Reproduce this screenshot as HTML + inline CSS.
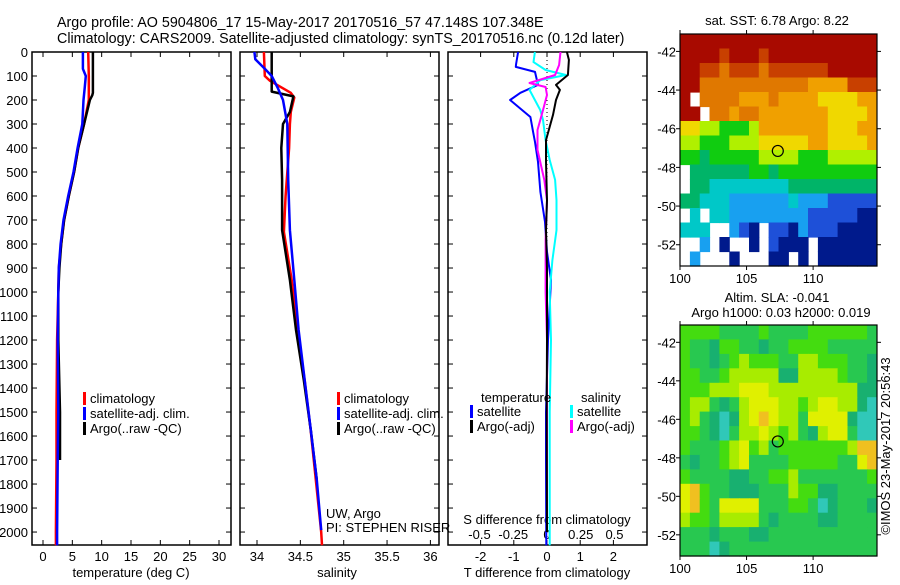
<!DOCTYPE html>
<html><head><meta charset="utf-8"><style>
body{margin:0;background:#fff;width:900px;height:580px;overflow:hidden}
svg{font-family:"Liberation Sans",sans-serif;font-size:13px}
</style></head><body>
<svg id="c" width="900" height="580" xmlns="http://www.w3.org/2000/svg">
<text x="57" y="27" style="font-size:14.3px">Argo profile: AO 5904806_17 15-May-2017 20170516_57 47.148S 107.348E</text>
<text x="57" y="43" style="font-size:14.3px">Climatology: CARS2009. Satellite-adjusted climatology: synTS_20170516.nc (0.12d later)</text>
</svg>
<script>
// ---- data ----
const depthTicks=[0,100,200,300,400,500,600,700,800,900,1000,1100,1200,1300,1400,1500,1600,1700,1800,1900,2000];
const tTicks=[0,5,10,15,20,25,30];
const sTicks=[34,34.5,35,35.5,36];
const dTTicks=[-2,-1,0,1,2];
const dSTicks=[-0.5,-0.25,0,0.25,0.5];
const dSTickLabels=["-0.5","-0.25","0","0.25","0.5"];
// temperature profiles [depth, T]
const tClimDepth=[0,100,200,300,400,500,600,700,800,900,1000,1200,1500,1700,2000,2055];
const tClimVal=[7.7,7.8,7.8,7.0,6.0,5.3,4.4,3.6,3.1,2.7,2.6,2.4,2.3,2.3,2.2,2.2];
const tSatDepth=[0,70,100,150,200,300,400,500,600,700,800,900,1000,1200,1500,1700,2000,2055];
const tSatVal=[6.8,6.8,7.3,7.1,6.9,6.7,5.9,5.2,4.3,3.5,3.0,2.7,2.6,2.5,2.6,2.5,2.4,2.4];
const tArgoDepth=[0,170,180,200,300,400,500,600,700,800,900,1000,1200,1500,1700];
const tArgoVal=[8.5,8.5,8.4,8.0,7.0,6.0,5.3,4.4,3.6,3.1,2.8,2.6,2.6,2.9,2.9];
// salinity profiles
const sClimDepth=[0,100,120,170,190,250,300,400,600,750,950,1160,1370,1580,1790,2000,2055];
const sClimVal=[34.08,34.09,34.15,34.39,34.43,34.39,34.38,34.37,34.33,34.31,34.40,34.47,34.55,34.62,34.68,34.74,34.75];
const sSatDepth=[0,30,70,100,150,200,300,533,742,950,1158,1367,1575,1783,1992];
const sSatVal=[33.97,33.98,34.09,34.17,34.24,34.30,34.35,34.36,34.38,34.43,34.48,34.55,34.62,34.69,34.74];
const sArgoDepth=[0,165,185,250,300,400,533,742,950,1158,1367,1575,1783];
const sArgoVal=[34.17,34.17,34.42,34.38,34.30,34.28,34.29,34.29,34.38,34.45,34.54,34.62,34.69];
// differences
const dTSatDepth=[0,50,62,83,137,170,200,271,333,375,458,583,708,833,950,1200,1500,1700,2055];
const dTSatVal=[-0.87,-0.93,-0.94,-0.36,-0.27,-0.8,-1.11,-0.5,-0.42,-0.36,-0.27,-0.2,-0.06,0,0.12,0.03,-0.03,-0.03,-0.02];
const dTArgoDepth=[0,33,96,137,158,200,262,367,458,617,742,900,1200,1500,2000];
const dTArgoVal=[0.6,0.66,0.63,0.27,0.39,0.27,0.18,-0.03,-0.03,0,-0.03,0,0,-0.01,0];
const dSSatDepth=[0,42,75,96,117,158,200,242,283,367,450,533,617,742,867,1000,1200,1500,1700,2055];
const dSSatVal=[-0.09,-0.1,-0.01,0.14,-0.05,-0.13,-0.09,-0.05,-0.03,-0.01,0.02,0.06,0.07,0.07,0.04,0.02,0.03,0.02,0.02,0.02];
const dSArgoDepth=[0,54,96,129,146,179,242,325,408,533,617,783,1000,1200,1500,1700,2000];
const dSArgoVal=[0.10,0.09,0.06,-0.13,-0.01,0,-0.03,-0.07,-0.07,-0.02,0,-0.01,-0.01,0,0,0,0];
// maps: lat/lon ticks
const latTicks=[-42,-44,-46,-48,-50,-52];
const lonTicks=[100,105,110];
const argoLon=107.348, argoLat=-47.148;
const sstRows=[
"BBBBBBBBBBBBBBBBBBBB",
"BBBBABBBABBBBBBBBBBB",
"BBAA9AAA9AAAAAABBBBB",
"BB999999999998888AAA",
"B_999988898888777788",
"BB_99899888888877778",
"77665556888888877788",
"66555666777778877778",
"55455555666655566666",
"_4444445545555555555",
"_4433333333444444444",
"44333222222322211111",
"_3_33222222221111100",
"333__210_11021110000",
"__2_0__0_1000_000000",
"_2___0___00_0_000000"];
const sstColors={"0":"#001a8c","1":"#1e50d8","2":"#18a0f0","3":"#00c8c8","4":"#00b468","5":"#10cc10","6":"#b0f000","7":"#f0d800","8":"#f0a000","9":"#e07800","A":"#c84000","B":"#a80a00"};
const slaRows=[
"33332222322223333332",
"32213322122333322222",
"32212343332244333221",
"33223444441144443221",
"33344455544444444411",
"34421245554434554410",
"34210145654425555100",
"33210244543421455200",
"32223453423333333466",
"21223452222333332256",
"32222112233422222223",
"56322111222433112222",
"56325555222332012221",
"43324444212222112222",
"22212221122222222222",
"22201222222222222222"];
const slaColors={"0":"#30c8b8","1":"#18b070","2":"#28c850","3":"#44dc10","4":"#a8ec00","5":"#e0f000","6":"#f0c020"};

// ---- drawing ----
const svg=document.getElementById('c');
const NS="http://www.w3.org/2000/svg";
function el(tag,attrs,parent){const e=document.createElementNS(NS,tag);for(const k in attrs)e.setAttribute(k,attrs[k]);(parent||svg).appendChild(e);return e;}
function txt(x,y,s,anchor,parent){const t=el('text',{x:x,y:y,'text-anchor':anchor||'start'},parent);t.textContent=s;return t;}
const Y0=52,Y1=545,DMAX=2054;
const yD=d=>Y0+d*(Y1-Y0)/DMAX;
function panel(x0,x1,name){
  const g=el('g',{});
  
  
  el('rect',{x:x0,y:Y0,width:x1-x0,height:Y1-Y0,fill:'none',stroke:'#000','stroke-width':1.5},g);
  return g;
}
function line(g,xs,ds,xf,color,name,w){
  const p=xs.map((v,i)=>xf(v).toFixed(1)+','+yD(ds[i]).toFixed(1)).join(' ');
  const l=el('polyline',{points:p,fill:'none',stroke:color,'stroke-width':w||2.5,'stroke-linejoin':'round'},g);
  
  
}
const yax=el('g',{});


depthTicks.forEach(d=>{txt(28,yD(d)+5,String(d),'end',yax);});
function yticks(g,x0,x1){depthTicks.forEach(d=>{const y=yD(d);el('line',{x1:x0,y1:y,x2:x0+5,y2:y,stroke:'#000'},g);el('line',{x1:x1-5,y1:y,x2:x1,y2:y,stroke:'#000'},g);});}
function legend(g,x,y,items){items.forEach((it,i)=>{el('rect',{x:x,y:y+i*15-11,width:3,height:13,fill:it[0]},g);const t=txt(x+7,y+i*15,it[1],'start',g);});}

// panel 1 temperature
const p1=panel(32,231,'temperature-panel');
const xT=v=>43+v*(219-43)/30;
yticks(p1,32,231);
tTicks.forEach(v=>{const x=xT(v);el('line',{x1:x,y1:Y1,x2:x,y2:Y1-5,stroke:'#000'},p1);el('line',{x1:x,y1:Y0,x2:x,y2:Y0+5,stroke:'#000'},p1);txt(x,561,String(v),'middle',p1);});
txt(131,577,'temperature (deg C)','middle',p1);
line(p1,tClimVal,tClimDepth,xT,'#ff0000','temp-climatology-line');
line(p1,tArgoVal,tArgoDepth,xT,'#000000','temp-argo-line');
line(p1,tSatVal,tSatDepth,xT,'#0000ff','temp-satellite-line');
legend(p1,83,403,[['#ff0000','climatology'],['#0000ff','satellite-adj. clim.'],['#000','Argo(..raw -QC)']]);

// panel 2 salinity
const p2=panel(240,439,'salinity-panel');
const xS=v=>257+(v-34)*86.7;
yticks(p2,240,439);
sTicks.forEach(v=>{const x=xS(v);el('line',{x1:x,y1:Y1,x2:x,y2:Y1-5,stroke:'#000'},p2);el('line',{x1:x,y1:Y0,x2:x,y2:Y0+5,stroke:'#000'},p2);txt(x,561,String(v),'middle',p2);});
txt(337,577,'salinity','middle',p2);
line(p2,sClimVal,sClimDepth,xS,'#ff0000','sal-climatology-line');
line(p2,sArgoVal,sArgoDepth,xS,'#000000','sal-argo-line');
line(p2,sSatVal,sSatDepth,xS,'#0000ff','sal-satellite-line');
legend(p2,337,403,[['#ff0000','climatology'],['#0000ff','satellite-adj. clim.'],['#000','Argo(..raw -QC)']]);
txt(326,518,'UW, Argo','start',p2);
txt(326,532,'PI: STEPHEN RISER','start',p2);

// panel 3 differences
const p3=panel(448,647,'difference-panel');
const xdT=v=>547+v*33.2;
const xdS=v=>547+v*135;
yticks(p3,448,647);
el('line',{x1:547,y1:Y0,x2:547,y2:Y1,stroke:'#000','stroke-dasharray':'1,3'},p3);
dTTicks.forEach(v=>{const x=xdT(v);el('line',{x1:x,y1:Y1,x2:x,y2:Y1-5,stroke:'#000'},p3);el('line',{x1:x,y1:Y0,x2:x,y2:Y0+5,stroke:'#000'},p3);txt(x,561,String(v),'middle',p3);});
txt(547,577,'T difference from climatology','middle',p3);
dSTicks.forEach((v,i)=>{txt(xdS(v),539,dSTickLabels[i],'middle',p3);});
txt(547,524,'S difference from climatology','middle',p3);
line(p3,dTSatVal,dTSatDepth,xdT,'#0000ff','dT-satellite-line',2);
line(p3,dSSatVal,dSSatDepth,xdS,'#00ffff','dS-satellite-line',2);
line(p3,dSArgoVal,dSArgoDepth,xdS,'#ff00ff','dS-argo-line',2);
line(p3,dTArgoVal,dTArgoDepth,xdT,'#000000','dT-argo-line',2);
txt(481,402,'temperature','start',p3);
txt(581,402,'salinity','start',p3);
legend(p3,470,416,[['#0000ff','satellite'],['#000','Argo(-adj)']]);
legend(p3,570,416,[['#00ffff','satellite'],['#ff00ff','Argo(-adj)']]);

// maps
function map(top,bot,rows,colors,name){
  const g=el('g',{});
  
  
  const L=680,R=877,lonMin=100,lonMax=114.8,latTop=-41.1,latBot=-53.1;
  const xL=v=>L+(v-lonMin)*(R-L)/(lonMax-lonMin);
  const yL=v=>top+(latTop-v)*(bot-top)/(latTop-latBot);
  const nr=rows.length,nc=rows[0].length,cw=(R-L)/nc,ch=(bot-top)/nr;
  rows.forEach((r,i)=>{for(let j=0;j<nc;j++){const c=r[j];if(c==='_')continue;
    const cell=el('rect',{x:(L+j*cw).toFixed(1),y:(top+i*ch).toFixed(1),width:(cw+0.6).toFixed(1),height:(ch+0.6).toFixed(1),fill:colors[c]},g);
    
    }});
  el('rect',{x:L,y:top,width:R-L,height:bot-top,fill:'none',stroke:'#000','stroke-width':1.2},g);
  latTicks.forEach(v=>{const y=yL(v);el('line',{x1:L-4,y1:y,x2:L,y2:y,stroke:'#000'},g);el('line',{x1:R,y1:y,x2:R+4,y2:y,stroke:'#000'},g);txt(676,y+5,String(v),'end',g);});
  lonTicks.forEach(v=>{const x=xL(v);el('line',{x1:x,y1:bot,x2:x,y2:bot+4,stroke:'#000'},g);el('line',{x1:x,y1:top-4,x2:x,y2:top,stroke:'#000'},g);txt(x,bot+17,String(v),'middle',g);});
  const m=el('circle',{cx:xL(argoLon),cy:yL(argoLat),r:5.5,fill:'none',stroke:'#000','stroke-width':1.2},g);
  
  
  return g;
}
map(34,266,sstRows,sstColors,'sst-map');
txt(777,25,'sat. SST: 6.78 Argo: 8.22','middle');
map(325,556,slaRows,slaColors,'sla-map');
txt(777,302,'Altim. SLA: -0.041','middle');
txt(781,317,'Argo h1000: 0.03 h2000: 0.019','middle');
const stamp=txt(0,0,'©IMOS 23-May-2017 20:56:43','middle');
stamp.setAttribute('transform','translate(890,446) rotate(-90)');


</script>
</body></html>
